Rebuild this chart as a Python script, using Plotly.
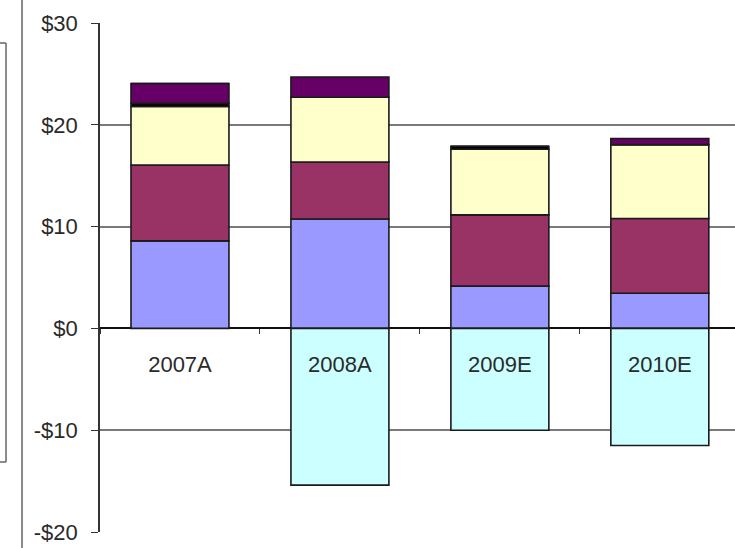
import plotly.graph_objects as go

categories = ["2007A", "2008A", "2009E", "2010E"]
series_blue = [8.6, 10.75, 4.15, 3.45]
series_maroon = [7.45, 5.6, 7.0, 7.35]
series_yellow = [5.75, 6.35, 6.45, 7.25]
series_black = [0.3, 0.0, 0.3, 0.0]
series_purple = [1.95, 2.0, 0.0, 0.6]
series_cyan = [0.0, -15.4, -10.0, -11.5]

ytick_vals = [-20, -10, 0, 10, 20, 30]
ytick_text = ["-$20", "-$10", "$0", "$10", "$20", "$30"]

font_family = "Liberation Sans, Arial, sans-serif"
text_color = "#2a2a2a"

fig = go.Figure()
for name, vals, col in [
    ("Series 1", series_blue, "#9999FF"),
    ("Series 2", series_maroon, "#993366"),
    ("Series 3", series_yellow, "#FFFFCC"),
    ("Series 4", series_black, "#000000"),
    ("Series 5", series_purple, "#660066"),
    ("Series 6", series_cyan, "#CCFFFF"),
]:
    fig.add_trace(go.Bar(
        x=categories, y=vals, name=name,
        marker=dict(color=col, line=dict(color="#1a1a1a", width=1.6)),
        hoverinfo="x+y",
    ))

fig.update_layout(
    width=735, height=548,
    barmode="relative",
    bargap=0.3875,
    showlegend=False,
    paper_bgcolor="white",
    plot_bgcolor="white",
    margin=dict(l=100, r=0, t=23, b=16),
    font=dict(family=font_family, color=text_color, size=22),
    xaxis=dict(
        type="category",
        range=[-0.5, 3.47],
        anchor="free",
        position=0.4,
        showgrid=False,
        showline=False,
        zeroline=False,
        ticks="outside",
        tickson="boundaries",
        ticklen=5,
        tickcolor="#333333",
        tickwidth=1,
        ticklabelstandoff=21,
        tickfont=dict(size=22, color=text_color, family=font_family),
    ),
    yaxis=dict(
        range=[-20, 30],
        tickvals=ytick_vals,
        ticktext=ytick_text,
        showgrid=True,
        gridcolor="#7a7a7a",
        gridwidth=1.6,
        zeroline=True,
        zerolinecolor="#111111",
        zerolinewidth=1.8,
        showline=True,
        linecolor="#333333",
        linewidth=1.5,
        ticks="outside",
        ticklen=7,
        tickcolor="#333333",
        ticklabelstandoff=9,
        tickfont=dict(size=22, color=text_color, family=font_family),
    ),
    shapes=[
        # chart area border on the far left
        dict(type="line", xref="paper", yref="paper",
             x0=-0.1228, x1=-0.1228, y0=-0.04, y1=1.05,
             line=dict(color="#8a8a8a", width=2)),
        # right edge of the (cropped) legend box
        dict(type="line", xref="paper", yref="paper",
             x0=-0.2, x1=-0.148, y0=0.9607, y1=0.9607,
             line=dict(color="#666666", width=1.5)),
        dict(type="line", xref="paper", yref="paper",
             x0=-0.148, x1=-0.148, y0=0.9607, y1=0.1375,
             line=dict(color="#666666", width=1.5)),
        dict(type="line", xref="paper", yref="paper",
             x0=-0.2, x1=-0.148, y0=0.1375, y1=0.1375,
             line=dict(color="#666666", width=1.5)),
    ],
)

fig.write_html("out.html")
